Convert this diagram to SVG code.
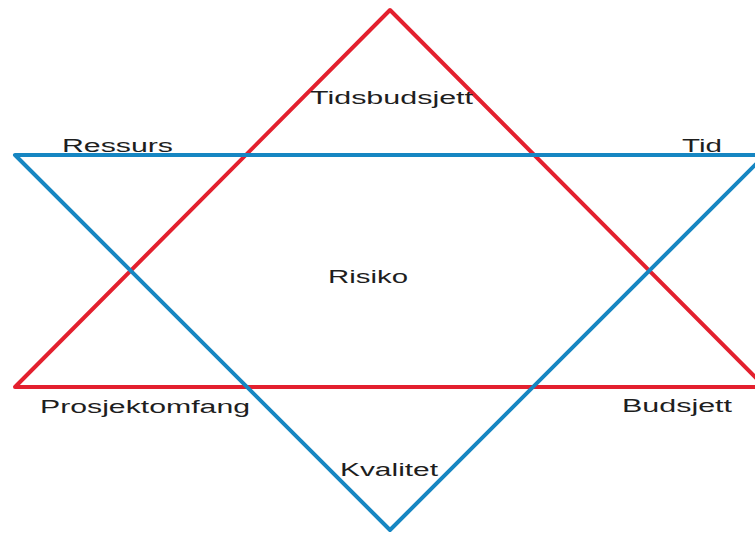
<svg xmlns="http://www.w3.org/2000/svg" width="755" height="533" viewBox="0 0 755 533">
<style>
.tri{fill:none;stroke-width:4;stroke-linejoin:round}
.red{stroke:#e3202e}
.blue{stroke:#1686c2}
.lbl{font-family:"Liberation Sans",Arial,sans-serif;font-size:18px;fill:#1e1e1e}
</style>
<rect width="755" height="533" fill="#ffffff"/>
<g id="triangles">
<polygon id="red-triangle" class="tri red" points="390,10 765,387 15,387"/>
<polygon id="blue-triangle" class="tri blue" points="15,155 765,155 390,530"/>
</g>
<g id="tidsbudsjett"><text class="lbl" x="310" y="104" textLength="163" lengthAdjust="spacingAndGlyphs">Tidsbudsjett</text></g>
<g id="ressurs"><text class="lbl" x="62" y="152" textLength="111" lengthAdjust="spacingAndGlyphs">Ressurs</text></g>
<g id="tid"><text class="lbl" x="682" y="152" textLength="40" lengthAdjust="spacingAndGlyphs">Tid</text></g>
<g id="risiko"><text class="lbl" x="328" y="283" textLength="80" lengthAdjust="spacingAndGlyphs">Risiko</text></g>
<g id="prosjektomfang"><text class="lbl" x="40" y="413" textLength="210" lengthAdjust="spacingAndGlyphs">Prosjektomfang</text></g>
<g id="budsjett"><text class="lbl" x="622" y="412" textLength="110" lengthAdjust="spacingAndGlyphs">Budsjett</text></g>
<g id="kvalitet"><text class="lbl" x="340" y="476" textLength="98" lengthAdjust="spacingAndGlyphs">Kvalitet</text></g>
</svg>
